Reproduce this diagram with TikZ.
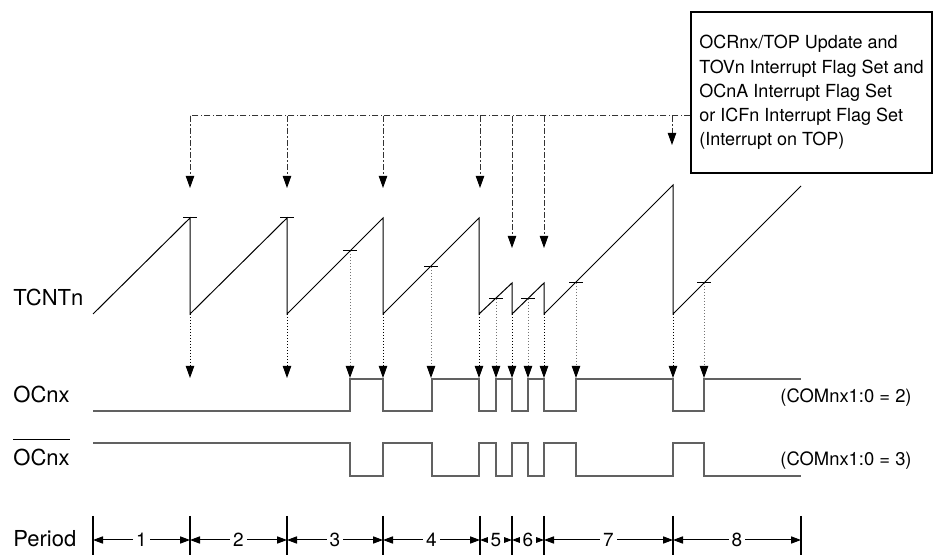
\documentclass[tikz,border=0pt]{standalone}
\usepackage{fontspec}
\setmainfont{TeX Gyre Heros}
\usetikzlibrary{arrows.meta}

\begin{document}
\begin{tikzpicture}[
    x=0.5pt, y=-0.5pt,
    saw/.style={line width=0.5pt, black},
    wave/.style={line width=0.9pt, black!62},
    cmpmark/.style={line width=0.5pt, black},
    tip/.style={-{Triangle[length=6pt,width=4.2pt,color=black]}},
    flag/.style={tip, line width=0.5pt, black!80,
                 dash pattern=on 3pt off 1.2pt on 0.6pt off 1.2pt},
    hit/.style={tip, line width=0.5pt, densely dotted, black},
    cmphit/.style={hit, black!55},
    lbl/.style={font=\fontsize{11}{13}\selectfont, inner sep=0pt,
                anchor=base west},
    note/.style={font=\fontsize{9.2}{12}\selectfont, inner sep=0pt,
                 anchor=base west},
    pertick/.style={line width=0.6pt, black},
    perarr/.style={{Triangle[length=5pt,width=3.6pt]}-{Triangle[length=5pt,width=3.6pt]},
                   line width=0.5pt},
    pernum/.style={font=\fontsize{9.5}{11}\selectfont, fill=white,
                   inner xsep=1.5pt, inner ysep=0.5pt},
]
\useasboundingbox (0,0) rectangle (934,555);

% --- NODES ---
\node[draw, line width=0.6pt, align=left, inner xsep=2pt,
      minimum width=120.5pt, minimum height=80.5pt,
      font=\fontsize{9}{12.1}\selectfont]
      (topbox) at (811.5,92.5)
    {OCRnx/TOP Update and\\
     TOVn Interrupt Flag Set and\\
     OCnA Interrupt Flag Set\\
     or ICFn Interrupt Flag Set\\
     (Interrupt on TOP)};

\node[lbl] (tcnt)   at (13,306) {TCNTn};
\node[lbl] (ocn)    at (13,403) {OCnx};
\node[lbl] (ocnb)   at (13,466) {OCnx};
\node[lbl] (period) at (13,547) {Period};
\draw[line width=0.5pt] ([yshift=5pt]ocnb.north west) -- ([yshift=5pt]ocnb.north east);

\node[note] (com2) at (780,403) {(COMnx1:0 = 2)};
\node[note] (com3) at (780,466) {(COMnx1:0 = 3)};

% --- TOP FLAGS ---
\coordinate (bus) at (190,116);
\draw[line width=0.5pt, black!80, dash pattern=on 3pt off 1.2pt on 0.6pt off 1.2pt]
    (topbox.west |- bus) -- (bus);
\foreach \x/\y in {190/188, 287/188, 383/188, 480/188, 512/248, 544/248, 672/145}
    \draw[flag] (\x,116) -- (\x,\y);

% --- COUNTER ---
\draw[saw] (93,314) -- (190,218) -- (190,314) -- (287,218) -- (287,314)
    -- (383,218) -- (383,314) -- (479,218) -- (479,314) -- (512,283)
    -- (512,314) -- (544,283) -- (544,314) -- (673,185) -- (673,314)
    -- (801,186);

% compare match marks
\foreach \x/\y in {190/218, 287/218, 350/251, 431/267, 496/299, 528/299, 576/283, 704/283}
    \draw[cmpmark] (\x-7,\y) -- (\x+7,\y);

% update and match arrows
\foreach \x in {190, 287, 383, 479, 512, 544, 673}
    \draw[hit] (\x,314) -- (\x,378);
\foreach \x/\y in {350/251, 431/267, 496/299, 528/299, 576/283, 704/283}
    \draw[cmphit] (\x,\y) -- (\x,378);

% --- OUTPUTS ---
\draw[wave] (93,411) -- (350,411) -- (350,379) -- (383,379) -- (383,411)
    -- (432,411) -- (432,379) -- (479,379) -- (479,411) -- (496,411)
    -- (496,379) -- (512,379) -- (512,411) -- (528,411) -- (528,379)
    -- (544,379) -- (544,411) -- (576,411) -- (576,379) -- (673,379)
    -- (673,411) -- (704,411) -- (704,379) -- (801,379);

\draw[wave] (93,443) -- (350,443) -- (350,476) -- (383,476) -- (383,443)
    -- (432,443) -- (432,476) -- (479,476) -- (479,443) -- (496,443)
    -- (496,476) -- (512,476) -- (512,443) -- (528,443) -- (528,476)
    -- (544,476) -- (544,443) -- (576,443) -- (576,476) -- (673,476)
    -- (673,443) -- (704,443) -- (704,476) -- (801,476);

% --- PERIODS ---
\foreach \x in {93, 190, 287, 383, 480, 512, 544, 673, 801}
    \draw[pertick] (\x,516) -- (\x,555);
\foreach \xa/\xb/\n in {93/190/1, 190/287/2, 287/383/3, 383/480/4,
                        480/512/5, 512/544/6, 544/673/7, 673/801/8}
    \draw[perarr] (\xa,540) -- (\xb,540)
        node[pernum, midway] {\n};

\end{tikzpicture}
\end{document}
